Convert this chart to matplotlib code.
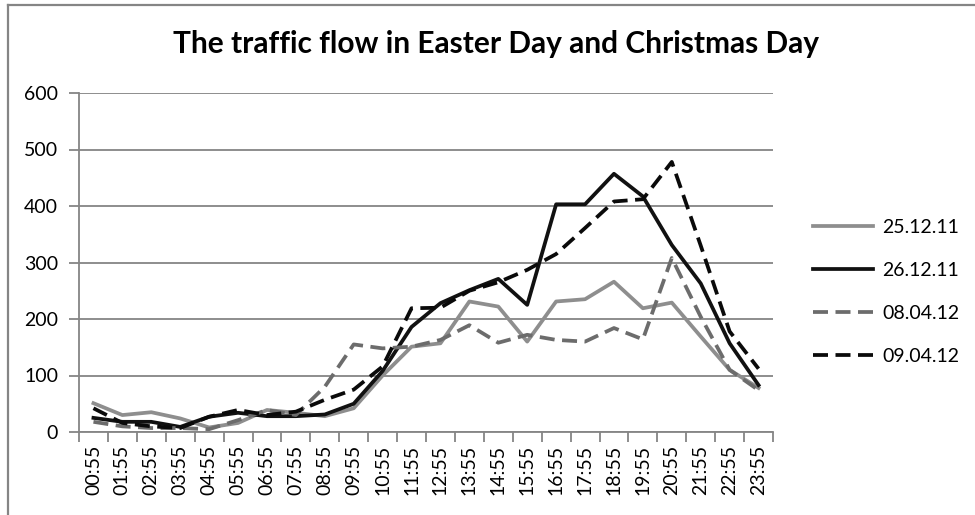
# Traffic flow chart: Easter Day vs Christmas Day
import numpy as np
import matplotlib
matplotlib.use('Agg')
import matplotlib.pyplot as plt
from matplotlib.lines import Line2D


# Date
hours = ['%02d:55' % h for h in range(24)]

day_25_12_11 = [51, 30, 35, 24, 8, 16, 39, 34, 28, 42, 100, 151,
                157, 231, 222, 160, 231, 235, 266, 219, 229, 169, 110, 78]
day_26_12_11 = [25, 18, 18, 9, 27, 34, 28, 28, 31, 50, 108, 186,
                228, 251, 271, 225, 403, 403, 457, 417, 331, 263, 157, 83]
day_08_04_12 = [18, 10, 7, 7, 5, 21, 39, 30, 80, 155, 148, 151,
                163, 189, 158, 172, 163, 160, 184, 164, 308, 204, 110, 74]
day_09_04_12 = [42, 16, 10, 7, 27, 39, 30, 36, 57, 75, 116, 219,
                220, 250, 265, 287, 315, 361, 408, 412, 478, 330, 178, 112]

labels = ['25.12.11', '26.12.11', '08.04.12', '09.04.12']
yticks = [0, 100, 200, 300, 400, 500, 600]


plt.rcParams['font.family'] = ['Lato', 'DejaVu Sans']

fig = plt.figure(figsize=(9.75, 5.15), dpi=100)
ax = fig.add_axes([79 / 975, 1 - 432 / 515, (773 - 79) / 975, (432 - 93) / 515])

x = np.arange(len(hours))
lw = 2.7
ax.plot(x, day_25_12_11, '-', color='#8e8e8e', lw=lw, label=labels[0])
ax.plot(x, day_26_12_11, '-', color='#111111', lw=lw, label=labels[1])
ax.plot(x, day_08_04_12, '--', color='#6c6c6c', lw=lw, dashes=(4, 2), label=labels[2])
ax.plot(x, day_09_04_12, '--', color='#0a0a0a', lw=lw, dashes=(4, 2), label=labels[3])

# Axe
grey = '#858585'
ax.set_xlim(-0.5, len(hours) - 0.5)
ax.set_ylim(0, 600)
ax.set_yticks(yticks)
ax.yaxis.grid(True, color=grey, lw=1.3)
ax.set_axisbelow(True)
ax.tick_params(axis='y', length=7, width=1.3, color=grey, pad=8, labelsize=14)

ax.set_xticks(x)
ax.set_xticklabels(hours, rotation=90, fontsize=14)
ax.set_xticks(np.arange(-0.5, len(hours)), minor=True)
ax.tick_params(axis='x', which='major', length=0, pad=9)
ax.tick_params(axis='x', which='minor', length=7, width=1.3, color=grey)

for s in ['top', 'right']:
    ax.spines[s].set_visible(False)
for s in ['left', 'bottom']:
    ax.spines[s].set_color(grey)
    ax.spines[s].set_linewidth(1.3)

leg = ax.legend(loc='center left', bbox_to_anchor=(1.032, 0.413), frameon=False,
                fontsize=14, handlelength=3.1, handletextpad=0.46, labelspacing=1.34)

fig.text(0.509, 1 - 44 / 515, 'The traffic flow in Easter Day and Christmas Day',
         ha='center', va='center', fontsize=21.5, fontweight='bold')

# Chenar
fig.add_artist(Line2D([8 / 975, 8 / 975], [0, 1 - 5 / 515], transform=fig.transFigure,
                      color=grey, lw=1.6))
fig.add_artist(Line2D([8 / 975, 1], [1 - 5 / 515, 1 - 5 / 515], transform=fig.transFigure,
                      color=grey, lw=1.6))

fig.savefig('out.png', dpi=100)
